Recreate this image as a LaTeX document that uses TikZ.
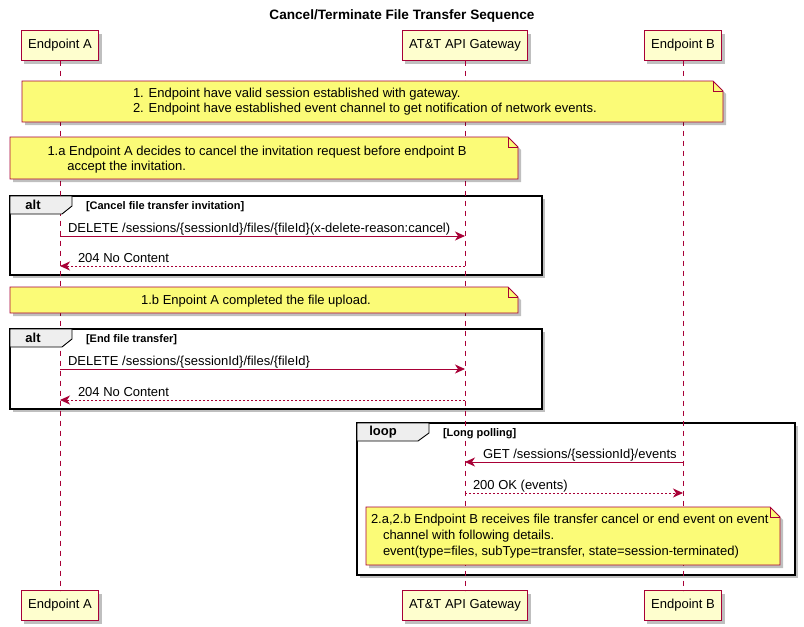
\documentclass[tikz,border=0pt]{standalone}
\usepackage{fontspec}
\setmainfont{Liberation Sans}
\usepackage{xcolor}
\definecolor{umlred}{RGB}{168,0,54}
\definecolor{umlbox}{RGB}{254,254,206}
\definecolor{umlnote}{RGB}{251,251,119}
\definecolor{umltab}{RGB}{238,238,238}
\usepackage{tikz}
\usetikzlibrary{arrows.meta}
\usetikzlibrary{shadows}
\newcommand{\dogear}{10pt}
\newcommand{\normaltext}{\fontsize{13}{15}\selectfont}
\tikzset{
    common/.style={font=\normaltext, inner sep=0pt, outer sep=0pt, text=black},
    shadowed/.style={drop shadow={shadow xshift=3pt, shadow yshift=-3pt, fill=black, opacity=.25}},
    participant/.style={common, shadowed, draw=umlred, fill=umlbox, line width=1pt, minimum height=30pt, inner xsep=7pt},
    lifeline/.style={umlred, line width=.8pt, dash pattern=on 5pt off 5pt},
    msg/.style={umlred, line width=.9pt, -{Stealth[length=10pt, width=9pt, inset=3pt]}},
    reply/.style={msg, dash pattern=on 2pt off 2pt},
    msglabel/.style={common, anchor=base west},
    notearea/.style={common, minimum width=#1},
    note shape/.style={insert path={(#1.north west) -- ([xshift=-\dogear]#1.north east)
        -- ([yshift=-\dogear]#1.north east) -- (#1.south east) -- (#1.south west) -- cycle}},
    notebox/.style={draw=umlred, fill=umlnote, line width=.9pt, shadowed},
    notefold/.style={draw=umlred, line width=.9pt},
    notetext/.style={common, align=left, anchor=west},
    frame/.style={draw=black, line width=1.5pt, fill=white, shadowed},
    tab/.style={draw=black, line width=.9pt, fill=umltab},
    tablabel/.style={common, font=\fontsize{13}{15}\bfseries\selectfont},
    guard/.style={common, anchor=base west, font=\fontsize{11}{13}\bfseries\selectfont}
}

\begin{document}
\begin{tikzpicture}[x=1pt, y=-1pt]
    \useasboundingbox (0,0) rectangle (804,627);

    \node[tablabel, font=\fontsize{13.6}{15}\bfseries\selectfont] (title) at (402,16) {Cancel/Terminate File Transfer Sequence};

    % frames first, lifelines run over them
    \draw[frame] (10,196) rectangle (542,275);
    \draw[frame] (10,329) rectangle (542,409);
    \draw[frame] (357,423) rectangle (795,575);

    \node[participant] (A-top) at (60,45.5) {Endpoint A};
    \node[participant] (G-top) at (465,45.5) {AT\&T API Gateway};
    \node[participant] (B-top) at (683,45.5) {Endpoint B};
    \node[participant] (A-bot) at (60,605.5) {Endpoint A};
    \node[participant] (G-bot) at (465,605.5) {AT\&T API Gateway};
    \node[participant] (B-bot) at (683,605.5) {Endpoint B};

    \foreach \p in {A,G,B}
        \draw[lifeline] (\p-top) -- (\p-bot);

    % frame tabs and guards
    \draw[tab] (10,196) -- (72,196) -- (72,206) -- (62,214) -- (10,214) -- cycle;
    \node[tablabel] (alt1) at (33,205) {alt};
    \node[guard] (alt1-guard) at (86,209) {[Cancel file transfer invitation]};

    \draw[tab] (10,329) -- (72,329) -- (72,339) -- (62,347) -- (10,347) -- cycle;
    \node[tablabel] (alt2) at (33,338) {alt};
    \node[guard] (alt2-guard) at (86,342) {[End file transfer]};

    \draw[tab] (357,423) -- (429,423) -- (429,433) -- (418,441) -- (357,441) -- cycle;
    \node[tablabel] (loop) at (383,432) {loop};
    \node[guard] (loop-guard) at (443,436) {[Long polling]};

    % messages
    \coordinate (del1-a) at (A-top |- 0,236);
    \coordinate (del1-g) at (G-top |- 0,236);
    \coordinate (ret1-g) at (G-top |- 0,266);
    \coordinate (ret1-a) at (A-top |- 0,266);
    \coordinate (del2-a) at (A-top |- 0,369);
    \coordinate (del2-g) at (G-top |- 0,369);
    \coordinate (ret2-g) at (G-top |- 0,400);
    \coordinate (ret2-a) at (A-top |- 0,400);
    \coordinate (get-b) at (B-top |- 0,462);
    \coordinate (get-g) at (G-top |- 0,462);
    \coordinate (ok-g) at (G-top |- 0,493);
    \coordinate (ok-b) at (B-top |- 0,493);

    \draw[msg] (del1-a) -- (del1-g)
        node[msglabel, pos=0, xshift=8pt, yshift=4pt] {DELETE /sessions/\{sessionId\}/files/\{fileId\}(x-delete-reason:cancel)};
    \draw[reply] (ret1-g) -- (ret1-a)
        node[msglabel, pos=1, xshift=18pt, yshift=4pt] {204 No Content};
    \draw[msg] (del2-a) -- (del2-g)
        node[msglabel, pos=0, xshift=8pt, yshift=4pt] {DELETE /sessions/\{sessionId\}/files/\{fileId\}};
    \draw[reply] (ret2-g) -- (ret2-a)
        node[msglabel, pos=1, xshift=18pt, yshift=4pt] {204 No Content};
    \draw[msg] (get-b) -- (get-g)
        node[msglabel, pos=1, xshift=18pt, yshift=4pt] {GET /sessions/\{sessionId\}/events};
    \draw[reply] (ok-g) -- (ok-b)
        node[msglabel, pos=0, xshift=8pt, yshift=4pt] {200 OK (events)};

    % notes
    \node[notearea=701pt, minimum height=41pt] (n1) at (372.5,101.5) {};
    \draw[notebox, note shape=n1];
    \draw[notefold] ([xshift=-\dogear]n1.north east) |- ([yshift=-\dogear]n1.north east);
    \node[notetext] (n1-text) at ([xshift=111pt]n1.west)
        {1. Endpoint have valid session established with gateway.\\
         2. Endpoint have established event channel to get notification of network events.};

    \node[notearea=508pt, minimum height=42pt] (n2) at (264,158) {};
    \draw[notebox, note shape=n2];
    \draw[notefold] ([xshift=-\dogear]n2.north east) |- ([yshift=-\dogear]n2.north east);
    \node[notetext] (n2-text) at ([xshift=37.5pt, yshift=-1.5pt]n2.west)
        {1.a Endpoint A decides to cancel the invitation request before endpoint B\\
         \hspace*{20pt}accept the invitation.};

    \node[notearea=508pt, minimum height=26pt] (n3) at (264,300) {};
    \draw[notebox, note shape=n3];
    \draw[notefold] ([xshift=-\dogear]n3.north east) |- ([yshift=-\dogear]n3.north east);
    \node[common] (n3-text) at ([xshift=-8pt, yshift=-1pt]n3.center) {1.b Enpoint A completed the file upload.};

    \node[notearea=414pt, minimum height=58pt] (n4) at (573,536) {};
    \draw[notebox, note shape=n4];
    \draw[notefold] ([xshift=-\dogear]n4.north east) |- ([yshift=-\dogear]n4.north east);
    \node[notetext, font=\fontsize{13}{16}\selectfont] (n4-text) at ([xshift=5pt]n4.west)
        {2.a,2.b Endpoint B receives file transfer cancel or end event on event\\
         \hspace*{12pt}channel with following details.\\
         \hspace*{12pt}event(type=files, subType=transfer, state=session-terminated)};
\end{tikzpicture}
\end{document}
